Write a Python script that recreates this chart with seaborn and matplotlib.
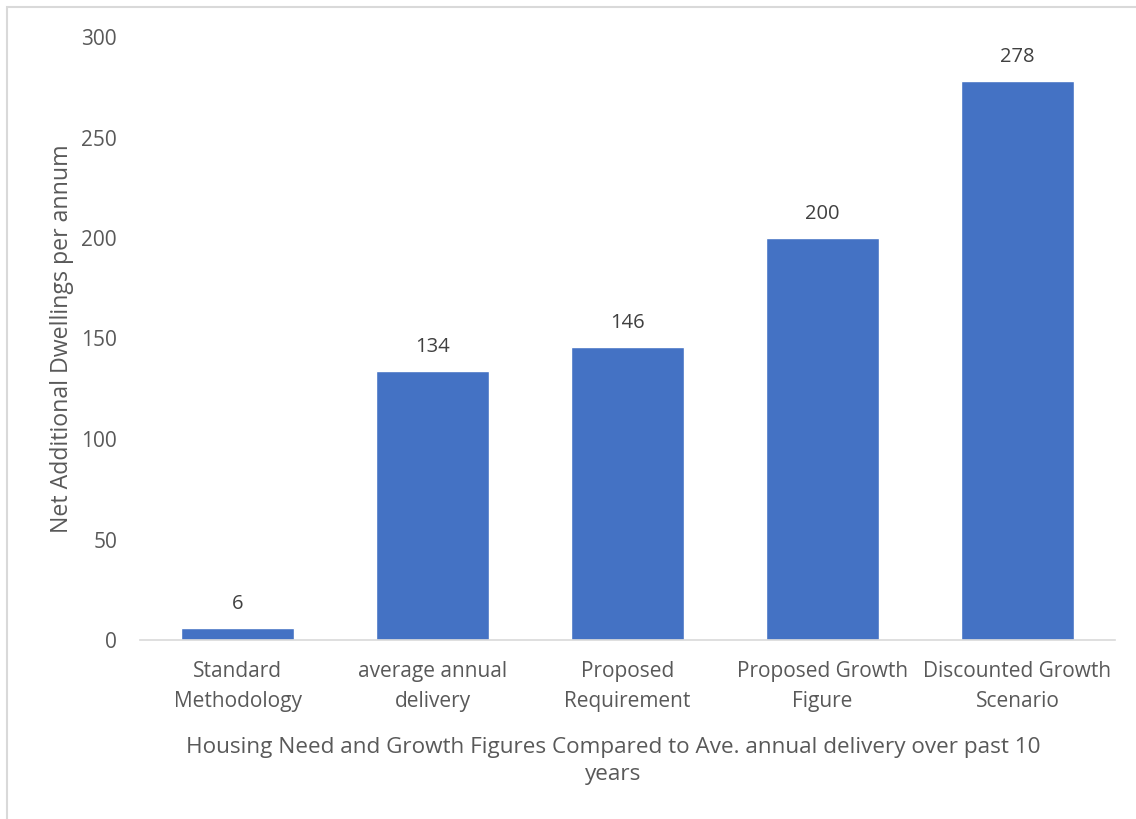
import matplotlib
matplotlib.use("Agg")
import matplotlib.pyplot as plt
import seaborn as sns
import pandas as pd
from matplotlib.patches import Rectangle

categories = ["Standard\nMethodology", "average annual\ndelivery", "Proposed\nRequirement",
              "Proposed Growth\nFigure", "Discounted Growth\nScenario"]
values = [6, 134, 146, 200, 278]
y_ticks = [0, 50, 100, 150, 200, 250, 300]
x_title = "Housing Need and Growth Figures Compared to Ave. annual delivery over past 10\nyears"
y_title = "Net Additional Dwellings per annum"

sns.set_style("white")
plt.rcParams['font.family'] = ['Open Sans', 'DejaVu Sans']

df = pd.DataFrame({"cat": categories, "val": values})

fig = plt.figure(figsize=(11.36, 8.19), dpi=100)
W, H = 1136, 819
ax = fig.add_axes([140 / W, 1 - 640 / H, (1115 - 140) / W, (640 - 37) / H])

sns.barplot(data=df, x="cat", y="val", color="#4472C4", saturation=1, width=0.575, ax=ax)

ax.set_ylim(0, 300)
ax.set_yticks(y_ticks)
ax.set_xlim(-0.5, len(categories) - 0.5)
for s in ["top", "right", "left"]:
    ax.spines[s].set_visible(False)
ax.spines["bottom"].set_color("#D9D9D9")
ax.spines["bottom"].set_linewidth(1.2)
ax.tick_params(axis="y", length=0, labelsize=15, labelcolor="#595959", pad=16.5)
ax.tick_params(axis="x", length=0, labelsize=15, labelcolor="#595959", pad=15)
for t in ax.get_xticklabels():
    t.set_linespacing(1.6)

ax.set_xlabel(x_title, fontsize=16.2, color="#595959", labelpad=17.5, linespacing=1.38)
ax.xaxis.label.set_x(0.485)
ax.set_ylabel(y_title, fontsize=16.7, color="#595959", labelpad=5)

for c in ax.containers:
    ax.bar_label(c, labels=[str(v) for v in values], padding=10, fontsize=14.5, color="#404040")

fig.patches.append(Rectangle((7 / W, -0.1), 1.2, 1 - 7 / H + 0.1, transform=fig.transFigure,
                             fill=False, edgecolor="#D9D9D9", linewidth=1.5))

fig.savefig("out.png", dpi=100)
